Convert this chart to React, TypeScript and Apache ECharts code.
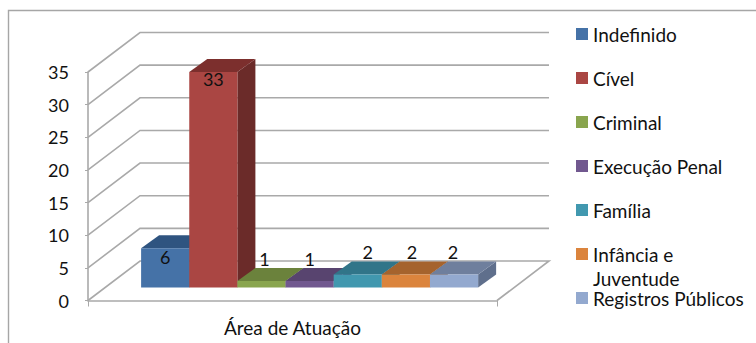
import React, { useEffect, useRef } from "react";
import * as echarts from "echarts";

const categories = ["Área de Atuação"];
const seriesNames = [
  "Indefinido",
  "Cível",
  "Criminal",
  "Execução Penal",
  "Família",
  "Infância e Juventude",
  "Registros Públicos",
];
const seriesValues = [6, 33, 1, 1, 2, 2, 2];
const valueTicks = [0, 5, 10, 15, 20, 25, 30, 35];

const faceColors = ["#4572A7", "#AA4643", "#89A54E", "#71588F", "#4198AF", "#DB843D", "#93A9CF"];
const topColors = ["#2F5480", "#7C2F2D", "#6B823C", "#58446F", "#317589", "#A5632D", "#6F7F9D"];
const sideColors = ["#2A4A70", "#6B2B29", "#5D7133", "#4B3A60", "#2A6677", "#8F5626", "#5F6F8C"];

const FONT = "Lato";
const GRID_COLOR = "#A9A9A9";
const WALL_DX = 52;
const WALL_DY = 39.5;
const BAR_DX = 18;
const BAR_DY = 13;
const BLOCK_SHARE = 0.824;

// Vertical position of a value label relative to the front top edge of its block.
const labelShift = (value: number) => (value > 10 ? 7 : value > 3 ? 9 : -22);
const labelSlide = [0, 0, 3, 0, 10, 6, -1];

// Back wall and floor rules, one broken line per value tick.
const renderWall = (params: any, api: any) => {
  const box = params.coordSys;
  const value = api.value(1);
  const [, y] = api.coord([0, value]);
  const points = [
    [box.x, y],
    [box.x + WALL_DX, y - WALL_DY],
    [box.x + box.width + WALL_DX, y - WALL_DY],
  ];
  if (value === 0) points.push([box.x + box.width, y]);
  return {
    type: "polyline",
    shape: { points },
    style: { stroke: GRID_COLOR, lineWidth: 1.6, fill: "none" },
  };
};

// A block with front, top and side faces, standing partway into the floor.
const makeBlock = (index: number) => (_params: any, api: any) => {
  const value = api.value(1);
  const [center, baseY] = api.coord([0, 0]);
  const [, valueY] = api.coord([0, value]);
  const band = api.size([1, 0])[0];
  const width = (band * BLOCK_SHARE) / seriesValues.length;
  const floorDx = (BAR_DY * WALL_DX) / WALL_DY;
  const left = center + floorDx - (width * seriesValues.length) / 2 + index * width;
  const right = left + width;
  const bottom = baseY - BAR_DY;
  const frontTop = valueY - BAR_DY;
  return {
    type: "group",
    children: [
      {
        type: "polygon",
        shape: {
          points: [
            [right, frontTop],
            [right + BAR_DX, frontTop - BAR_DY],
            [right + BAR_DX, bottom - BAR_DY],
            [right, bottom],
          ],
        },
        style: { fill: sideColors[index] },
      },
      {
        type: "polygon",
        shape: {
          points: [
            [left, frontTop],
            [left + BAR_DX, frontTop - BAR_DY],
            [right + BAR_DX, frontTop - BAR_DY],
            [right, frontTop],
          ],
        },
        style: { fill: topColors[index] },
      },
      {
        type: "rect",
        shape: { x: left, y: frontTop, width, height: bottom - frontTop },
        style: { fill: faceColors[index] },
      },
      {
        type: "text",
        z2: 10,
        style: {
          x: (left + right) / 2 + labelSlide[index],
          y: frontTop + labelShift(value),
          text: String(value),
          fill: "#111",
          font: `18px ${FONT}`,
          textAlign: "center",
          textVerticalAlign: "middle",
        },
      },
    ],
  };
};

export default function App() {
  const ref = useRef<HTMLDivElement>(null);

  useEffect(() => {
    document.body.style.margin = "0";
    const chart = echarts.init(ref.current!, undefined, { renderer: "svg" });
    chart.setOption({
      animation: false,
      backgroundColor: "#FFFFFF",
      textStyle: { fontFamily: FONT },
      grid: { left: 88, top: 72, width: 409, height: 228.5 },
      legend: {
        orient: "vertical",
        left: 576,
        top: 24,
        padding: 0,
        itemWidth: 12,
        itemHeight: 12,
        itemGap: 24,
        icon: "rect",
        data: seriesNames,
        formatter: (name: string) => (name === "Infância e Juventude" ? "Infância e" : name),
        textStyle: { fontFamily: FONT, fontSize: 19, color: "#111", lineHeight: 20 },
      },
      xAxis: {
        type: "category",
        data: categories,
        axisLine: { lineStyle: { color: GRID_COLOR, width: 1.6 } },
        axisTick: { show: true, length: 6, alignWithLabel: false, lineStyle: { color: GRID_COLOR } },
        axisLabel: { fontFamily: FONT, fontSize: 19, color: "#111", margin: 17 },
        splitLine: { show: false },
      },
      yAxis: {
        type: "value",
        min: 0,
        max: 35,
        interval: 5,
        axisLine: { show: true, lineStyle: { color: GRID_COLOR, width: 1.6 } },
        axisTick: { show: true, length: 3, lineStyle: { color: GRID_COLOR } },
        axisLabel: { fontFamily: FONT, fontSize: 18, color: "#111", margin: 19 },
        splitLine: { show: false },
      },
      graphic: [
        {
          type: "polyline",
          silent: true,
          z: -1,
          shape: { points: [[8.5, 343], [8.5, 10.5], [756, 10.5]] },
          style: { stroke: "#A6A6A6", lineWidth: 1.4, fill: "none" },
        },
        {
          type: "text",
          style: {
            x: 593,
            y: 278,
            text: "Juventude",
            fill: "#111",
            font: `19px ${FONT}`,
            textVerticalAlign: "middle",
          },
        },
      ],
      series: [
        {
          type: "custom",
          name: "walls",
          silent: true,
          renderItem: renderWall,
          clip: false,
          encode: { x: 0, y: 1 },
          data: valueTicks.map((tick) => [0, tick]),
        },
        ...seriesNames.map((name, i) => ({
          type: "custom",
          name,
          silent: true,
          clip: false,
          itemStyle: { color: faceColors[i] },
          renderItem: makeBlock(i),
          encode: { x: 0, y: 1 },
          data: [[0, seriesValues[i]]],
        })),
      ],
    });
    return () => chart.dispose();
  }, []);

  return <div ref={ref} style={{ width: 756, height: 343 }} />;
}
